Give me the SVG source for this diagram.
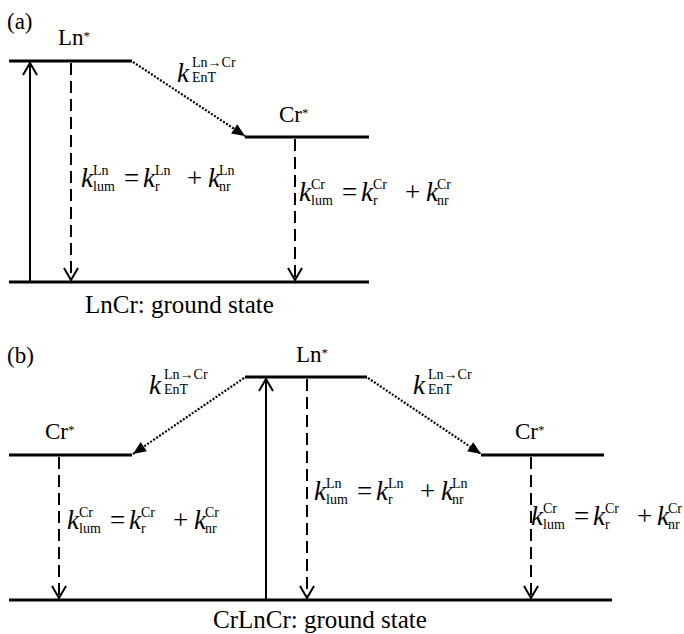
<svg xmlns="http://www.w3.org/2000/svg" width="684" height="634" viewBox="0 0 684 634">
<style>
text{font-family:"Liberation Serif","Times New Roman",serif;fill:#000}
.lab{font-size:23px}
.big{font-size:25px}
.op{font-size:27px}
.k{font-style:italic;font-size:27px}
.s{font-size:14px}
.st{font-size:13px}
.lvl{stroke:#000;stroke-width:3;fill:none}
.solid{stroke:#000;stroke-width:2;fill:none;marker-end:url(#open)}
.dash{stroke:#000;stroke-width:2;fill:none;stroke-dasharray:12 6;marker-end:url(#open)}
.dot{stroke:#000;stroke-width:2.2;fill:none;stroke-dasharray:2 1.6;marker-end:url(#tri)}
</style>
<defs>
<marker id="open" markerUnits="userSpaceOnUse" markerWidth="24" markerHeight="24" viewBox="-16 -12 24 24" refX="0" refY="0" orient="auto" overflow="visible">
<path d="M-12,-7 L0,0 L-12,7" fill="none" stroke="#000" stroke-width="2" stroke-dasharray="none"/>
</marker>
<marker id="tri" markerUnits="userSpaceOnUse" markerWidth="24" markerHeight="24" viewBox="-16 -12 24 24" refX="0" refY="0" orient="auto" overflow="visible">
<path d="M-13,-5.5 L0,0 L-13,5.5 Z" fill="#000" stroke="none"/>
</marker>
</defs>
<rect width="684" height="634" fill="#fff"/>

<!-- Panel (a) -->
<g id="a-panel-label"><text class="lab" x="7" y="29">(a)</text></g>
<g id="a-ln-excited">
<line class="lvl" x1="9" y1="61" x2="132" y2="61"/>
<text class="lab" x="58" y="45">Ln<tspan class="st" dy="-5">*</tspan></text>
</g>
<g id="a-cr-excited">
<line class="lvl" x1="245" y1="137" x2="369" y2="137"/>
<text class="lab" x="279" y="122">Cr<tspan class="st" dy="-5">*</tspan></text>
</g>
<g id="a-ground">
<line class="lvl" x1="9" y1="282" x2="369" y2="282"/>
<text class="big" x="85" y="313">LnCr: ground state</text>
</g>

<!-- Panel (b) -->
<g id="b-panel-label"><text class="lab" x="7" y="363">(b)</text></g>
<g id="b-ln-excited">
<line class="lvl" x1="245" y1="377" x2="367" y2="377"/>
<text class="lab" x="296" y="362">Ln<tspan class="st" dy="-5">*</tspan></text>
</g>
<g id="b-cr-excited-left">
<line class="lvl" x1="9" y1="455" x2="132" y2="455"/>
<text class="lab" x="45" y="439">Cr<tspan class="st" dy="-5">*</tspan></text>
</g>
<g id="b-cr-excited-right">
<line class="lvl" x1="481" y1="455" x2="604" y2="455"/>
<text class="lab" x="515" y="439">Cr<tspan class="st" dy="-5">*</tspan></text>
</g>
<g id="b-ground">
<line class="lvl" x1="9" y1="600" x2="612" y2="600"/>
<text class="big" x="213" y="628">CrLnCr: ground state</text>
</g>

<g id="connectors">
<!-- (a) -->
<line class="solid" x1="30" y1="281" x2="30" y2="63"/>
<line class="dash" x1="71" y1="63" x2="71" y2="280"/>
<line class="dot" x1="133" y1="62" x2="245" y2="136"/>
<line class="dash" x1="295" y1="139" x2="295" y2="280"/>
<!-- (b) -->
<line class="solid" x1="266" y1="599" x2="266" y2="379"/>
<line class="dash" x1="307" y1="379" x2="307" y2="598"/>
<line class="dot" x1="244" y1="378" x2="133" y2="454"/>
<line class="dot" x1="368" y1="378" x2="481" y2="454"/>
<line class="dash" x1="59" y1="457" x2="59" y2="598"/>
<line class="dash" x1="531" y1="457" x2="531" y2="598"/>
</g>

<g id="connector-labels">
<!-- k_EnT (a) -->
<text><tspan class="k" x="177" y="82">k</tspan><tspan class="s" x="192" y="67">Ln→Cr</tspan><tspan class="s" x="192" y="82">EnT</tspan></text>
<!-- k_EnT (b) left -->
<text><tspan class="k" x="149" y="394">k</tspan><tspan class="s" x="164" y="379">Ln→Cr</tspan><tspan class="s" x="164" y="394">EnT</tspan></text>
<!-- k_EnT (b) right -->
<text><tspan class="k" x="413" y="394">k</tspan><tspan class="s" x="428" y="379">Ln→Cr</tspan><tspan class="s" x="428" y="394">EnT</tspan></text>

<!-- (a) Ln formula X=81 B=187 -->
<text><tspan class="k" x="81" y="187">k</tspan><tspan class="s" x="93" y="175">Ln</tspan><tspan class="s" x="93" y="191">lum</tspan><tspan class="op" x="124" y="187">=</tspan><tspan class="k" x="143" y="187">k</tspan><tspan class="s" x="155" y="175">Ln</tspan><tspan class="s" x="155" y="191">r</tspan><tspan class="op" x="187" y="187">+</tspan><tspan class="k" x="208" y="187">k</tspan><tspan class="s" x="219" y="175">Ln</tspan><tspan class="s" x="219" y="191">nr</tspan></text>
<!-- (a) Cr formula X=299 B=201 -->
<text><tspan class="k" x="299" y="201">k</tspan><tspan class="s" x="311" y="189">Cr</tspan><tspan class="s" x="311" y="205">lum</tspan><tspan class="op" x="342" y="201">=</tspan><tspan class="k" x="361" y="201">k</tspan><tspan class="s" x="373" y="189">Cr</tspan><tspan class="s" x="373" y="205">r</tspan><tspan class="op" x="405" y="201">+</tspan><tspan class="k" x="426" y="201">k</tspan><tspan class="s" x="437" y="189">Cr</tspan><tspan class="s" x="437" y="205">nr</tspan></text>
<!-- (b) left Cr formula X=67 B=529 -->
<text><tspan class="k" x="67" y="529">k</tspan><tspan class="s" x="79" y="517">Cr</tspan><tspan class="s" x="79" y="533">lum</tspan><tspan class="op" x="110" y="529">=</tspan><tspan class="k" x="129" y="529">k</tspan><tspan class="s" x="141" y="517">Cr</tspan><tspan class="s" x="141" y="533">r</tspan><tspan class="op" x="173" y="529">+</tspan><tspan class="k" x="194" y="529">k</tspan><tspan class="s" x="205" y="517">Cr</tspan><tspan class="s" x="205" y="533">nr</tspan></text>
<!-- (b) Ln formula X=314 B=500 -->
<text><tspan class="k" x="314" y="500">k</tspan><tspan class="s" x="326" y="488">Ln</tspan><tspan class="s" x="326" y="504">lum</tspan><tspan class="op" x="357" y="500">=</tspan><tspan class="k" x="376" y="500">k</tspan><tspan class="s" x="388" y="488">Ln</tspan><tspan class="s" x="388" y="504">r</tspan><tspan class="op" x="420" y="500">+</tspan><tspan class="k" x="441" y="500">k</tspan><tspan class="s" x="452" y="488">Ln</tspan><tspan class="s" x="452" y="504">nr</tspan></text>
<!-- (b) right Cr formula X=531 B=525 -->
<text><tspan class="k" x="531" y="525">k</tspan><tspan class="s" x="543" y="513">Cr</tspan><tspan class="s" x="543" y="529">lum</tspan><tspan class="op" x="574" y="525">=</tspan><tspan class="k" x="593" y="525">k</tspan><tspan class="s" x="605" y="513">Cr</tspan><tspan class="s" x="605" y="529">r</tspan><tspan class="op" x="637" y="525">+</tspan><tspan class="k" x="657" y="525">k</tspan><tspan class="s" x="668" y="513">Cr</tspan><tspan class="s" x="668" y="529">nr</tspan></text>
</g>
</svg>
